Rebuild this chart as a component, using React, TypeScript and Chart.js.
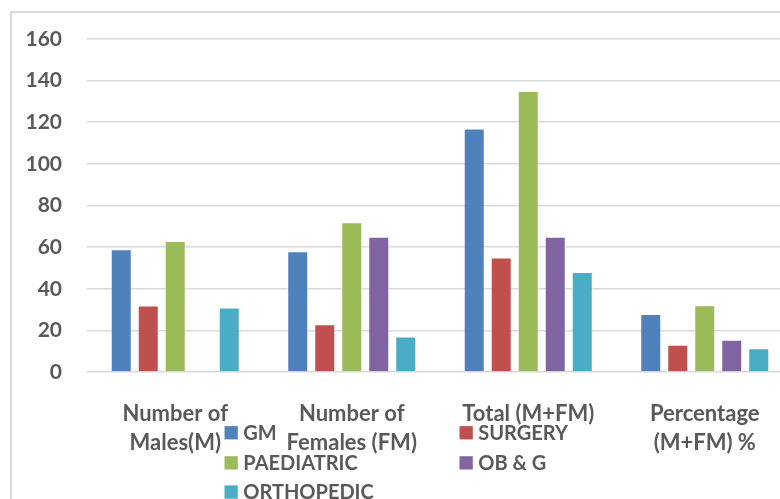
import { useEffect, useRef } from "react";
import { Chart, registerables } from "chart.js";

Chart.register(...registerables);

const categories: string[][] = [
  ["Number of", "Males(M)"],
  ["Number of", "Females (FM)"],
  ["Total (M+FM)"],
  ["Percentage", "(M+FM) %"],
];
const seriesNames = ["GM", "SURGERY", "PAEDIATRIC", "OB & G", "ORTHOPEDIC"];
const seriesColors = ["#4F81BD", "#C0504D", "#9BBB59", "#8064A2", "#4BACC6"];
const gmValues = [59, 58, 117, 27.9];
const surgeryValues = [32, 23, 55, 13.1];
const paediatricValues = [63, 72, 135, 32.1];
const obgValues = [0, 65, 65, 15.5];
const orthopedicValues = [31, 17, 48, 11.4];
const yTickValues = [0, 20, 40, 60, 80, 100, 120, 140, 160];

const FONT = "Lato, 'Open Sans', sans-serif";
const TEXT_COLOR = "#595959";

const legendPlugin = {
  id: "customLegend",
  afterDraw(chart: any) {
    const ctx = chart.ctx as CanvasRenderingContext2D;
    const cols = [212.5, 447.5];
    const rows = [419.7, 449.8, 479];
    const slots = [
      [0, 0],
      [1, 0],
      [0, 1],
      [1, 1],
      [0, 2],
    ];
    ctx.save();
    ctx.font = `bold 20px ${FONT}`;
    ctx.textBaseline = "middle";
    ctx.textAlign = "left";
    chart.data.datasets.forEach((ds: any, i: number) => {
      const [c, r] = slots[i];
      const x = cols[c];
      const y = rows[r];
      ctx.fillStyle = ds.backgroundColor;
      ctx.fillRect(x, y - 6.6, 13.3, 13.3);
      ctx.fillStyle = TEXT_COLOR;
      ctx.fillText(ds.label, x + 18.8, y + 1);
    });
    ctx.restore();
  },
};

export default function App() {
  const canvasRef = useRef<HTMLCanvasElement | null>(null);

  useEffect(() => {
    document.documentElement.style.overflow = "hidden";
    document.body.style.overflow = "hidden";
    const canvas = canvasRef.current;
    if (!canvas) return;
    const seriesValues = [gmValues, surgeryValues, paediatricValues, obgValues, orthopedicValues];
    const chart = new Chart(canvas, {
      type: "bar",
      data: {
        labels: categories,
        datasets: seriesNames.map((name, i) => ({
          label: name,
          data: seriesValues[i],
          backgroundColor: seriesColors[i],
          borderColor: "rgba(255,255,255,0.45)",
          borderWidth: 1,
          categoryPercentage: 0.765,
          barPercentage: 0.778,
        })),
      },
      options: {
        animation: false,
        responsive: false,
        maintainAspectRatio: false,
        layout: { padding: { top: 26, right: 19, bottom: 0, left: 0 } },
        plugins: {
          legend: { display: false },
          tooltip: { enabled: false },
          title: { display: false },
        },
        scales: {
          x: {
            grid: { display: false, drawTicks: false },
            border: { display: false },
            ticks: {
              color: TEXT_COLOR,
              font: { family: FONT, size: 22, weight: "bold", lineHeight: 1.32 },
              padding: 27,
              maxRotation: 0,
              autoSkip: false,
            },
            afterFit(scale: any) {
              scale.height = 128;
            },
          },
          y: {
            min: yTickValues[0],
            max: yTickValues[yTickValues.length - 1],
            grid: { color: "#d9d9d9", lineWidth: 1.6, drawTicks: false },
            border: { display: false },
            ticks: {
              stepSize: yTickValues[1] - yTickValues[0],
              color: TEXT_COLOR,
              font: { family: FONT, size: 21, weight: "bold" },
              padding: 25,
            },
            afterFit(scale: any) {
              scale.width = 75;
              scale.paddingTop = 10;
              scale.paddingBottom = 10;
            },
          },
        },
      },
      plugins: [legendPlugin],
    });
    return () => chart.destroy();
  }, []);

  return (
    <div
      style={{
        position: "absolute",
        left: 10,
        top: 11,
        width: 820,
        height: 520,
        border: "2px solid #d9d9d9",
        background: "#ffffff",
      }}
    >
      <canvas ref={canvasRef} width={800} height={487} style={{ display: "block", width: 800, height: 487 }} />
    </div>
  );
}
